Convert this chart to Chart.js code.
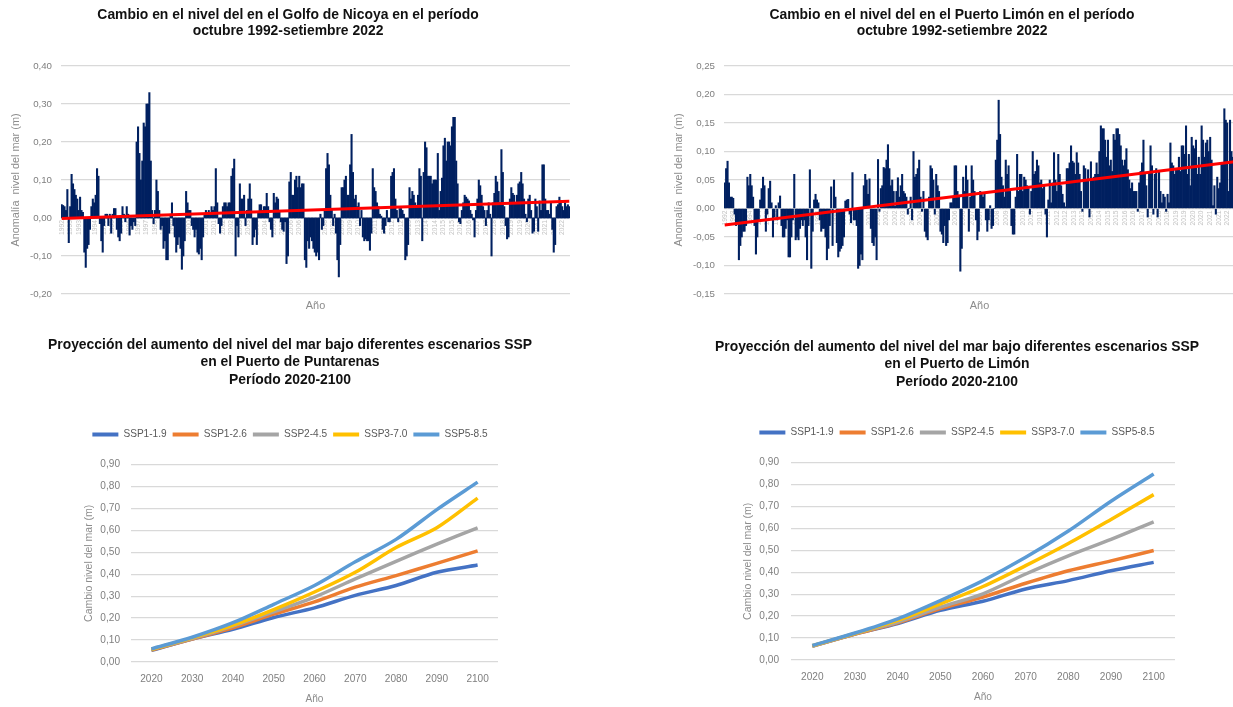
<!DOCTYPE html>
<html lang="es">
<head>
<meta charset="utf-8">
<title>Nivel del mar - Costa Rica</title>
<script src="https://cdn.jsdelivr.net/npm/chart.js@4.4.1/dist/chart.umd.min.js"></script>
<style>
    html, body { margin: 0; padding: 0; background: #fff; width: 1233px; height: 707px; overflow: hidden; position: relative; }
    .panel { position: absolute; }
</style>
</head>
<body>
<div class="panel" style="left:0;top:0"><canvas id="nicoya" width="576" height="318"></canvas></div>
<div class="panel" style="left:663px;top:0"><canvas id="limon" width="578" height="318"></canvas></div>
<div class="panel" style="left:0;top:325px"><canvas id="puntarenasSsp" width="580" height="382"></canvas></div>
<div class="panel" style="left:667px;top:325px"><canvas id="limonSsp" width="580" height="380"></canvas></div>
<script>
// monthly anomalies, octubre 1992 - setiembre 2022 (one row = 12 months)
const nicoyaAnom = [
    0.035, 0.033, 0.03, 0.02, 0.075, -0.065, 0.03, 0.115, 0.09, 0.075, 0.06, 0.05,
    0.02, 0.055, 0.02, 0.015, -0.09, -0.13, -0.08, -0.07, -0.03, 0.03, 0.05, 0.04,
    0.06, 0.13, 0.11, -0.015, -0.06, -0.09, -0.02, 0.01, 0.01, -0.02, 0.01, -0.04,
    0.01, 0.025, 0.025, -0.03, -0.05, -0.06, -0.04, 0.03, 0.01, -0.01, 0.03, 0.01,
    -0.045, -0.02, -0.03, -0.01, -0.02, 0.20, 0.24, 0.17, 0.10, 0.15, 0.25, 0.24,
    0.30, 0.30, 0.33, 0.15, 0.02, -0.015, 0.02, 0.10, 0.07, 0.02, -0.03, -0.02,
    -0.08, -0.06, -0.11, -0.11, -0.04, 0.01, 0.04, -0.02, -0.05, -0.09, -0.07, -0.05,
    -0.08, -0.135, -0.1, -0.06, 0.07, 0.04, 0.02, 0.02, -0.02, -0.03, -0.05, -0.03,
    -0.09, -0.095, -0.08, -0.11, -0.05, 0.01, 0.02, 0.01, 0.02, 0.01, 0.03, 0.02,
    0.03, 0.13, 0.04, -0.015, -0.04, -0.02, 0.03, 0.04, 0.04, 0.03, 0.04, 0.04,
    0.11, 0.13, 0.155, -0.10, -0.02, -0.05, 0.09, 0.05, 0.05, 0.06, -0.02, 0.02,
    0.05, 0.09, 0.05, -0.07, -0.05, -0.03, -0.07, 0.015, 0.035, 0.035, 0.02, 0.03,
    0.03, 0.065, 0.03, -0.01, -0.03, -0.05, 0.065, 0.04, 0.055, 0.05, 0.02, -0.01,
    -0.03, -0.035, -0.01, -0.12, -0.10, 0.095, 0.12, 0.06, 0.06, 0.10, 0.11, 0.08,
    0.11, 0.08, 0.09, 0.09, -0.11, -0.13, -0.06, -0.08, -0.05, -0.06, -0.08, -0.09,
    -0.10, -0.09, -0.11, 0.01, -0.03, -0.02, 0.02, 0.13, 0.17, 0.14, 0.06, 0.02,
    -0.02, 0.01, -0.04, -0.11, -0.155, -0.07, 0.08, 0.08, 0.10, 0.11, 0.06, 0.06,
    0.14, 0.22, 0.12, 0.05, 0.06, 0.03, 0.04, -0.02, 0.02, -0.05, -0.06, -0.055,
    -0.06, -0.06, -0.085, -0.04, 0.13, 0.08, 0.07, 0.04, 0.03, 0.01, 0.005, -0.03,
    -0.04, -0.02, 0.02, -0.01, -0.01, 0.11, 0.12, 0.13, 0.05, 0.02, -0.01, 0.025,
    0.025, 0.02, 0.01, -0.11, -0.10, -0.07, 0.08, 0.05, 0.07, 0.06, 0.04, 0.03,
    0.06, 0.13, 0.11, -0.06, 0.12, 0.20, 0.185, 0.11, 0.11, 0.11, 0.09, 0.10,
    0.10, 0.10, 0.17, 0.02, 0.07, 0.105, 0.19, 0.21, 0.15, 0.20, 0.20, 0.19,
    0.24, 0.265, 0.265, 0.15, 0.09, -0.01, -0.015, 0.02, 0.04, 0.06, 0.055, 0.05,
    0.045, 0.02, 0.01, -0.005, -0.05, 0.02, 0.05, 0.10, 0.085, 0.06, 0.03, 0.02,
    -0.02, 0.02, 0.04, 0.01, -0.10, 0.04, 0.065, 0.11, 0.095, 0.07, 0.04, 0.18,
    0.12, 0.03, -0.02, -0.055, -0.05, 0.05, 0.08, 0.065, 0.06, 0.04, 0.06, 0.09,
    0.095, 0.12, 0.09, 0.05, 0.01, -0.01, 0.05, 0.06, 0.02, -0.04, -0.035, 0.05,
    0.03, -0.035, 0.045, 0.02, 0.14, 0.14, 0.05, 0.02, 0.02, 0.01, 0.04, -0.03,
    -0.09, -0.07, 0.03, 0.035, 0.055, 0.04, 0.03, 0.02, 0.04, 0.03, 0.035, 0.03
];
const limonAnom = [
    0.045, 0.07, 0.083, 0.045, 0.02, 0.02, 0.018, -0.01, -0.03, -0.025, -0.09, -0.065,
    -0.05, -0.04, -0.04, -0.03, 0.055, 0.04, 0.06, 0.04, 0.02, -0.03, -0.08, -0.05,
    -0.02, 0.015, 0.035, 0.055, 0.04, -0.04, -0.01, 0.035, 0.048, 0.01, -0.05, -0.015,
    0.005, -0.02, 0.01, 0.022, -0.03, -0.05, -0.05, -0.035, -0.02, -0.085, -0.085, -0.05,
    -0.02, 0.06, -0.055, -0.05, -0.055, -0.035, -0.02, -0.03, -0.02, -0.05, -0.09, -0.03,
    0.068, -0.105, -0.04, 0.015, 0.025, 0.015, 0.01, -0.02, -0.04, -0.035, -0.035, -0.05,
    -0.09, -0.07, -0.03, 0.038, -0.065, 0.05, 0.02, -0.06, -0.085, -0.075, -0.07, -0.065,
    -0.05, 0.013, 0.015, 0.016, -0.01, -0.025, 0.063, -0.02, -0.02, -0.03, -0.105, -0.1,
    -0.08, -0.09, 0.04, 0.06, 0.05, 0.025, 0.052, -0.035, -0.06, -0.065, -0.05, -0.09,
    0.086, -0.005, 0.035, 0.04, 0.072, 0.07, 0.085, 0.112, 0.07, 0.04, 0.05, 0.03,
    0.004, 0.03, 0.054, 0.02, 0.04, 0.06, 0.03, 0.026, 0.02, -0.01, 0.0, 0.02,
    -0.02, 0.10, 0.055, 0.06, 0.07, 0.085, 0.02, -0.005, 0.03, -0.04, -0.05, -0.055,
    0.02, 0.075, 0.07, 0.05, -0.01, 0.06, 0.04, 0.03, -0.04, -0.045, -0.06, -0.03,
    -0.065, -0.06, -0.02, 0.01, 0.01, 0.02, 0.075, 0.075, 0.03, 0.02, -0.11, -0.07,
    0.055, 0.03, 0.075, 0.05, -0.04, 0.02, 0.075, 0.05, 0.03, -0.02, -0.055, -0.04,
    0.03, 0.025, 0.02, 0.025, -0.02, -0.04, -0.02, 0.005, -0.035, -0.03, 0.0, 0.085,
    0.12, 0.19, 0.13, 0.055, 0.04, 0.02, 0.085, 0.06, 0.075, 0.03, -0.03, -0.045,
    -0.045, 0.02, 0.095, 0.03, 0.06, 0.06, 0.03, 0.055, 0.05, 0.04, 0.035, -0.01,
    0.03, 0.10, 0.06, 0.065, 0.085, 0.075, 0.045, 0.05, 0.035, 0.04, -0.01, -0.05,
    0.015, 0.05, 0.01, 0.045, 0.098, 0.05, 0.03, 0.095, 0.06, 0.04, 0.025, 0.01,
    0.003, 0.07, 0.07, 0.08, 0.11, 0.083, 0.08, 0.06, 0.098, 0.08, 0.06, 0.03,
    -0.005, 0.075, 0.07, 0.05, 0.068, -0.015, 0.082, 0.05, 0.055, 0.06, 0.08, 0.06,
    0.10, 0.145, 0.14, 0.14, 0.12, 0.09, 0.12, 0.075, 0.085, 0.065, 0.13, 0.12,
    0.14, 0.14, 0.13, 0.11, 0.085, 0.075, 0.085, 0.105, 0.068, 0.05, 0.035, 0.045,
    0.03, 0.03, 0.03, -0.005, 0.045, 0.065, 0.08, 0.12, 0.06, 0.04, -0.015, 0.065,
    0.11, 0.075, -0.01, 0.06, 0.07, -0.015, 0.065, 0.03, 0.01, 0.025, 0.02, -0.005,
    0.025, 0.01, 0.115, 0.08, 0.075, 0.06, 0.07, 0.07, 0.09, 0.065, 0.11, 0.11,
    0.095, 0.145, 0.06, 0.095, 0.04, 0.125, 0.11, 0.105, 0.12, 0.06, 0.09, 0.06,
    0.145, 0.12, 0.09, 0.115, 0.12, 0.10, 0.125, 0.085, 0.005, 0.04, -0.01, 0.055,
    0.035, 0.045, 0.08, 0.08, 0.175, 0.155, 0.15, 0.03, 0.155, 0.1, 0.09, 0.05
];
// linear trend, value at first and last month
const nicoyaTrend = [-0.001, 0.044];
const limonTrend = [-0.029, 0.082];

// SSP projections
const sspYears = ['2020', '2030', '2040', '2050', '2060', '2070', '2080', '2090', '2100'];
const sspNames = ['SSP1-1.9', 'SSP1-2.6', 'SSP2-4.5', 'SSP3-7.0', 'SSP5-8.5'];
const sspColors = ['#4472C4', '#ED7D31', '#A5A5A5', '#FFC000', '#5B9BD5'];

const puntSsp119 = [0.053, 0.105, 0.149, 0.203, 0.247, 0.304, 0.349, 0.409, 0.442];
const puntSsp126 = [0.055, 0.105, 0.156, 0.218, 0.274, 0.341, 0.394, 0.45, 0.507];
const puntSsp245 = [0.057, 0.107, 0.164, 0.229, 0.296, 0.379, 0.459, 0.537, 0.612];
const puntSsp370 = [0.058, 0.11, 0.168, 0.239, 0.319, 0.409, 0.522, 0.612, 0.747];
const puntSsp585 = [0.06, 0.113, 0.179, 0.263, 0.349, 0.457, 0.559, 0.695, 0.82];

const limSsp119 = [0.063, 0.118, 0.166, 0.226, 0.268, 0.324, 0.362, 0.407, 0.445];
const limSsp126 = [0.063, 0.118, 0.17, 0.234, 0.287, 0.35, 0.407, 0.452, 0.499];
const limSsp245 = [0.064, 0.12, 0.173, 0.241, 0.302, 0.392, 0.475, 0.55, 0.63];
const limSsp370 = [0.065, 0.121, 0.181, 0.256, 0.335, 0.43, 0.531, 0.641, 0.754];
const limSsp585 = [0.066, 0.123, 0.188, 0.271, 0.362, 0.468, 0.588, 0.724, 0.848];

// month category labels: year of each month starting oct 1992
const monthLabels = [];
for (let i = 0; i < 360; i++) {
    monthLabels.push(String(1992 + Math.floor((9 + i) / 12)));
}

// narrow font like the original (falls back to regular, a bit smaller)
function hasFont(name) {
    const c = document.createElement('canvas').getContext('2d');
    c.font = '20px monospace';
    const a = c.measureText('abcdefghijklmnopq').width;
    c.font = '20px "' + name + '", monospace';
    const b = c.measureText('abcdefghijklmnopq').width;
    return a !== b;
}
const narrow = hasFont('Liberation Sans Narrow');
const fam = narrow ? "'Liberation Sans Narrow', 'Liberation Sans', sans-serif" : "'Liberation Sans', Arial, sans-serif";
const fs = n => (narrow ? n : Math.round(n * 0.84 * 10) / 10);
const titleSize = narrow ? 16 : 13.9;

Chart.defaults.font.family = fam;
Chart.defaults.color = '#7f7f7f';

const fmt = v => Number(v).toFixed(2).replace('.', ',');

// empty axis on the right, keeps the title centred on the whole canvas
function spacer(w) {
    return {
        type: 'linear',
        position: 'right',
        grid: { display: false, drawTicks: false },
        border: { display: false },
        ticks: { display: false },
        afterFit: s => { s.width = w; }
    };
}

renderBars('nicoya', ['Cambio en el nivel del en el Golfo de Nicoya en el período', 'octubre 1992-setiembre 2022'],
    nicoyaAnom, nicoyaTrend, -0.2, 0.4, 0.1);
renderBars('limon', ['Cambio en el nivel del en el Puerto Limón en el período', 'octubre 1992-setiembre 2022'],
    limonAnom, limonTrend, -0.15, 0.25, 0.05);

renderSsp('puntarenasSsp',
    ['Proyección del aumento del nivel del mar bajo diferentes escenarios SSP', 'en el Puerto de Puntarenas', 'Período 2020-2100'],
    [puntSsp119, puntSsp126, puntSsp245, puntSsp370, puntSsp585],
    { titleTop: 11, titleBottom: 35, gap: 15, yWidth: 131, yTitlePad: 82, tickPad: 11, padRight: 82 });
renderSsp('limonSsp',
    ['Proyección del aumento del nivel del mar bajo diferentes escenarios SSP', 'en el Puerto de Limón', 'Período 2020-2100'],
    [limSsp119, limSsp126, limSsp245, limSsp370, limSsp585],
    { titleTop: 13, titleBottom: 31, gap: 15, yWidth: 124, yTitlePad: 74, tickPad: 12, padRight: 72 });

function renderBars(id, title, values, trend, yMin, yMax, yStep) {
    const trendData = values.map(() => null);
    trendData[0] = trend[0];
    trendData[trendData.length - 1] = trend[1];

    new Chart(document.getElementById(id), {
        type: 'bar',
        data: {
            labels: monthLabels,
            datasets: [{
                type: 'line',
                data: trendData,
                xAxisID: 'x',
                yAxisID: 'y',
                borderColor: '#FF0000',
                borderWidth: 3,
                pointRadius: 0,
                spanGaps: true,
                order: 0
            }, {
                data: values,
                xAxisID: 'x',
                yAxisID: 'y',
                backgroundColor: '#002060',
                barPercentage: 1,
                categoryPercentage: 1,
                order: 1
            }]
        },
        options: {
            responsive: false,
            animation: false,
            plugins: {
                legend: { display: false },
                tooltip: { enabled: false },
                title: {
                    display: true,
                    text: title,
                    color: '#111',
                    font: { size: titleSize, weight: 'bold', lineHeight: '16px' },
                    padding: { top: 7, bottom: 27 }
                }
            },
            scales: {
                x: {
                    type: 'category',
                    position: { y: 0 },
                    offset: true,
                    grid: { display: false, drawTicks: false },
                    border: { display: false },
                    ticks: {
                        autoSkip: false,
                        minRotation: 90,
                        maxRotation: 90,
                        padding: 2,
                        color: '#c4c4c4',
                        font: { size: fs(8) },
                        callback: (v, i) => (i % 6 === 0 ? monthLabels[i] : '')
                    },
                    afterFit: s => { s.paddingLeft = 0; s.paddingRight = 0; }
                },
                xt: {
                    type: 'category',
                    position: 'bottom',
                    grid: { display: false, drawTicks: false },
                    border: { display: false },
                    ticks: { display: false },
                    title: {
                        display: true,
                        text: 'Año',
                        color: '#8c8c8c',
                        font: { size: fs(13), lineHeight: '15.6px' },
                        padding: { top: 3.7, bottom: 4.7 }
                    }
                },
                y: {
                    min: yMin,
                    max: yMax,
                    ticks: { stepSize: yStep, padding: 9, color: '#7f7f7f', font: { size: fs(11.5) }, callback: fmt },
                    grid: { color: '#d9d9d9', lineWidth: 1.3, drawTicks: false },
                    border: { display: false },
                    title: {
                        display: true,
                        text: 'Anomalía  nivel del mar (m)',
                        color: '#8c8c8c',
                        font: { size: fs(13), lineHeight: '15.6px' },
                        padding: { top: 8.2, bottom: 0 }
                    },
                    afterFit: s => { s.width = 61; }
                },
                yr: spacer(6)
            }
        }
    });
}

function renderSsp(id, title, series, o) {
    const datasets = series.map((vals, i) => ({
        label: sspNames[i],
        data: vals,
        yAxisID: 'y',
        borderColor: sspColors[i],
        backgroundColor: sspColors[i],
        borderWidth: 3.5,
        pointRadius: 0,
        tension: 0.3,
        order: series.length - i
    }));

    // leave room between legend and plot
    const legendGap = {
        id: 'legendGap',
        beforeInit(chart) {
            const fit = chart.legend.fit;
            chart.legend.fit = function () {
                fit.call(this);
                this.height += o.gap;
            };
        }
    };

    new Chart(document.getElementById(id), {
        type: 'line',
        data: { labels: sspYears, datasets: datasets },
        plugins: [legendGap],
        options: {
            responsive: false,
            animation: false,
            plugins: {
                tooltip: { enabled: false },
                title: {
                    display: true,
                    text: title,
                    color: '#111',
                    font: { size: titleSize, weight: 'bold', lineHeight: '17.5px' },
                    padding: { top: o.titleTop, bottom: o.titleBottom }
                },
                legend: {
                    labels: {
                        boxWidth: 26,
                        boxHeight: 4,
                        padding: 6,
                        color: '#595959',
                        font: { size: fs(12) },
                        sort: (a, b) => a.datasetIndex - b.datasetIndex,
                        generateLabels: ch => Chart.defaults.plugins.legend.labels.generateLabels(ch)
                            .map(l => Object.assign(l, { lineWidth: 0 }))
                    }
                }
            },
            scales: {
                x: {
                    offset: true,
                    grid: { display: false, drawTicks: false },
                    border: { display: false },
                    ticks: { padding: 10, color: '#7f7f7f', font: { size: fs(12), lineHeight: '14.4px' } },
                    title: {
                        display: true,
                        text: 'Año',
                        color: '#8c8c8c',
                        font: { size: fs(12), lineHeight: '14.4px' },
                        padding: { top: -4.6, bottom: 0.8 }
                    }
                },
                y: {
                    min: 0,
                    max: 0.9,
                    ticks: { stepSize: 0.1, padding: o.tickPad, color: '#7f7f7f', font: { size: fs(12) }, callback: fmt },
                    grid: { color: '#d9d9d9', lineWidth: 1.3, drawTicks: false },
                    border: { display: false },
                    title: {
                        display: true,
                        text: 'Cambio nivel del mar (m)',
                        color: '#8c8c8c',
                        font: { size: fs(12.5), lineHeight: '15px' },
                        padding: { top: o.yTitlePad, bottom: 0 }
                    },
                    afterFit: s => { s.width = o.yWidth; }
                },
                yr: spacer(o.padRight)
            }
        }
    });
}
</script>
</body>
</html>
